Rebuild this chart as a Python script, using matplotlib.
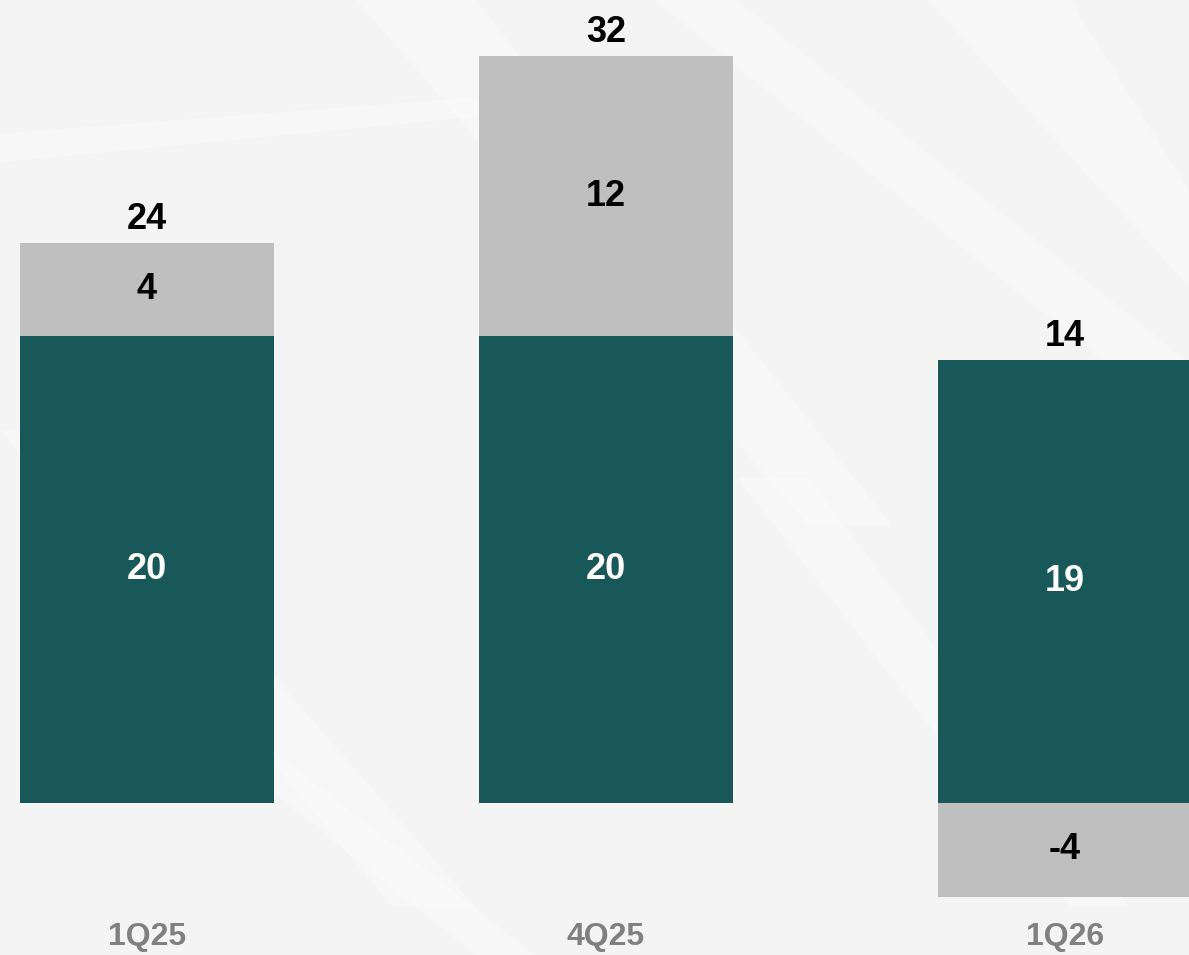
import numpy as np
import matplotlib
matplotlib.use("Agg")
from matplotlib import pyplot as plt
from matplotlib.patches import Polygon

# quarters and the two stacked components
quarters = ["1Q25", "4Q25", "1Q26"]
core = [20, 20, 19]
other = [4, 12, -4]
totals = [24, 32, 14]

teal = "#185859"
grey = "#bfbfbf"
bg = "#f4f4f4"

plt.rcParams['font.family'] = ['Liberation Sans', 'DejaVu Sans']

fig = plt.figure(figsize=(11.89, 9.55), dpi=100)
fig.patch.set_facecolor(bg)
ax = fig.add_axes([0, 0, 1, 1])
ax.set_facecolor(bg)

# soft diagonal streaks in the backdrop
streaks = [
    [(0.00, 0.86), (0.42, 0.90), (0.42, 0.88), (0.00, 0.83)],
    [(0.30, 1.00), (0.40, 1.00), (0.75, 0.45), (0.68, 0.45)],
    [(0.55, 1.00), (0.62, 1.00), (1.00, 0.62), (1.00, 0.55)],
    [(0.00, 0.55), (0.05, 0.55), (0.40, 0.05), (0.33, 0.05)],
    [(0.62, 0.50), (0.68, 0.50), (0.95, 0.05), (0.90, 0.05)],
    [(0.78, 1.00), (0.90, 1.00), (1.00, 0.80), (1.00, 0.70)],
    [(0.10, 0.30), (0.14, 0.30), (0.45, 0.00), (0.40, 0.00)],
]
for pts in streaks:
    ax.add_patch(Polygon(pts, closed=True, transform=ax.transAxes,
                         facecolor="white", edgecolor="none", alpha=0.35, zorder=0))

x = np.arange(len(quarters))
w = 0.553

ax.bar(x, core, width=w, color=teal, zorder=2)
# grey part sits on top of the core when positive, below zero when negative
other_bottom = [c if o >= 0 else 0 for c, o in zip(core, other)]
ax.bar(x, other, width=w, bottom=other_bottom, color=grey, zorder=2)

lbl = dict(fontsize=26, fontweight="bold", ha="center", zorder=3)
for i in range(len(quarters)):
    ax.text(x[i], core[i] / 2, str(core[i]), color="white", va="center", **lbl)
    ax.text(x[i], other_bottom[i] + other[i] / 2, str(other[i]), color="black",
            va="center", **lbl)
    top = max(core[i], core[i] + max(other[i], 0))
    ax.annotate(str(totals[i]), (x[i], top), xytext=(0, 10),
                textcoords="offset points", va="baseline", color="black", **lbl)
    ax.text(x[i], -5.71, quarters[i], color="#808080", va="center",
            fontsize=23, fontweight="bold", ha="center", zorder=3)

ax.set_xlim(-0.3203, 2.2702)
ax.set_ylim(-6.5, 34.4)
ax.axis("off")

fig.savefig("out.png", dpi=100, facecolor=bg)
